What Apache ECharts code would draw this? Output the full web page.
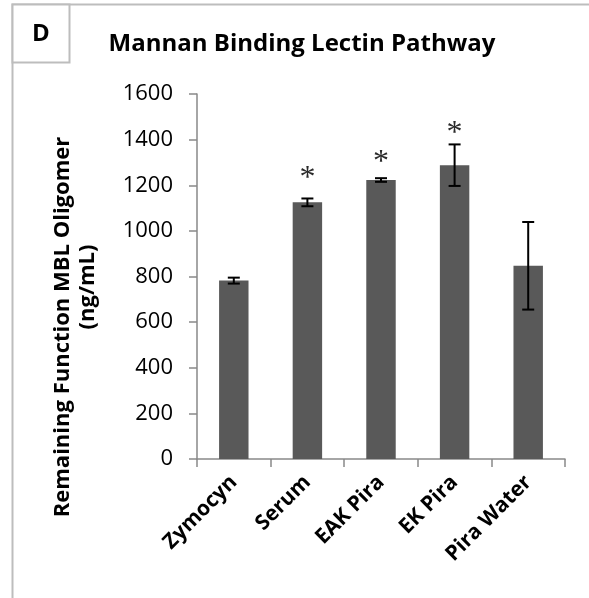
<!DOCTYPE html>
<html>
<head>
<meta charset="utf-8">
<script src="https://cdn.jsdelivr.net/npm/echarts@6/dist/echarts.min.js"></script>
<style>
  html, body { margin: 0; padding: 0; background: #fff; }
  #chart { width: 589px; height: 598px; }
</style>
</head>
<body>
<div id="chart"></div>
<script>
// MBL oligomer remaining function per treatment
const categories = ['Zymocyn', 'Serum', 'EAK Pira', 'EK Pira', 'Pira Water'];
const means = [782, 1125, 1223, 1288, 847];
const errors = [13, 17, 8, 91, 192];
// height of the significance mark (null = no mark)
const starLevels = [null, 1268, 1338, 1465, null];
const yTicks = { min: 0, max: 1600, step: 200 };

const FONT = '"Open Sans", "Liberation Sans", sans-serif';
const chart = echarts.init(document.getElementById('chart'));

const errorData = categories.map((c, i) => [i, means[i], errors[i], starLevels[i]]);

chart.setOption({
  animation: false,
  grid: { left: 197, right: 24, top: 94, bottom: 139 },
  xAxis: {
    type: 'category',
    data: categories,
    axisLine: { lineStyle: { color: '#898989', width: 1.5 } },
    axisTick: { show: true, length: 8, lineStyle: { color: '#898989', width: 1.5 } },
    axisLabel: {
      rotate: 45, margin: 20, color: '#000',
      fontFamily: FONT, fontWeight: 'bold', fontSize: 21
    }
  },
  yAxis: {
    type: 'value',
    min: yTicks.min, max: yTicks.max, interval: yTicks.step,
    splitLine: { show: false },
    axisLine: { show: true, lineStyle: { color: '#898989', width: 1.5 } },
    axisTick: { show: true, length: 8, lineStyle: { color: '#898989', width: 1.5 } },
    axisLabel: {
      margin: 24, color: '#000', fontFamily: FONT, fontSize: 22,
      formatter: v => String(v)
    }
  },
  series: [
    {
      type: 'bar',
      data: means,
      barWidth: '40%',
      itemStyle: { color: '#595959' }
    },
    {
      type: 'custom',
      data: errorData,
      z: 10,
      renderItem: function (params, api) {
        const i = api.value(0), m = api.value(1), e = api.value(2), s = api.value(3);
        const top = api.coord([i, m + e]);
        const bot = api.coord([i, m - e]);
        const hw = 6;
        const style = { stroke: '#000', lineWidth: 2 };
        const children = [
          { type: 'line', shape: { x1: top[0], y1: top[1], x2: bot[0], y2: bot[1] }, style },
          { type: 'line', shape: { x1: top[0] - hw, y1: top[1], x2: top[0] + hw, y2: top[1] }, style },
          { type: 'line', shape: { x1: bot[0] - hw, y1: bot[1], x2: bot[0] + hw, y2: bot[1] }, style }
        ];
        if (!isNaN(s) && s !== null) {
          const p = api.coord([i, s]);
          children.push({
            type: 'text',
            style: {
              text: '*', x: p[0], y: p[1] + 9,
              align: 'center', verticalAlign: 'middle',
              font: '32px "Liberation Serif", serif', fill: '#2b2b2b'
            }
          });
        }
        return { type: 'group', children };
      }
    }
  ],
  graphic: [
    // panel frame
    { type: 'polyline', shape: { points: [[12.5, 598], [12.5, 4.5], [589, 4.5]] },
      style: { stroke: '#bdbdbd', lineWidth: 2, fill: null } },
    { type: 'rect', shape: { x: 12.5, y: 4.5, width: 57, height: 58 },
      style: { stroke: '#bdbdbd', lineWidth: 2, fill: '#fff' } },
    { type: 'text', x: 41, y: 34,
      style: { text: 'D', font: 'bold 24px ' + FONT, fill: '#000', align: 'center', verticalAlign: 'middle' } },
    { type: 'text', x: 302, y: 44,
      style: { text: 'Mannan Binding Lectin Pathway', font: 'bold 24px ' + FONT, fill: '#000',
               align: 'center', verticalAlign: 'middle' } },
    { type: 'text', rotation: Math.PI / 2, x: 63, y: 327,
      style: { text: 'Remaining Function MBL Oligomer', font: 'bold 22px ' + FONT, fill: '#000',
               align: 'center', verticalAlign: 'middle' } },
    { type: 'text', rotation: Math.PI / 2, x: 88, y: 287,
      style: { text: '(ng/mL)', font: 'bold 22px ' + FONT, fill: '#000',
               align: 'center', verticalAlign: 'middle' } }
  ]
});
</script>
</body>
</html>
